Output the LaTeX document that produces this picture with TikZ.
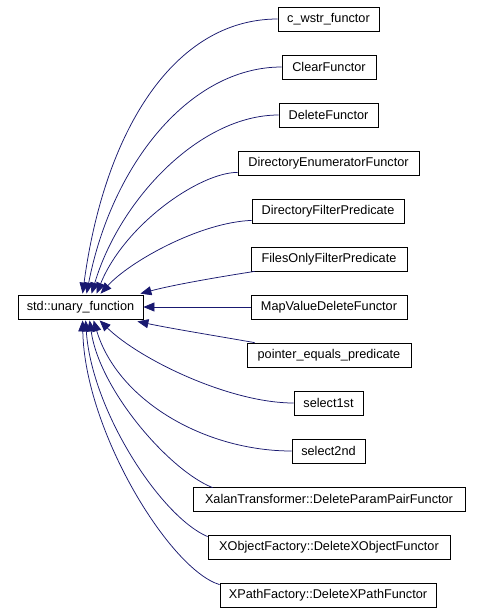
\documentclass[tikz,border=0pt]{standalone}
\usepackage{fontspec}
\setmainfont{Liberation Sans}
\usetikzlibrary{arrows.meta,calc}
\definecolor{edgeblue}{RGB}{25,25,112}
\begin{document}
\begin{tikzpicture}[x=1pt,y=-1pt,
  cls/.style={draw=black,line width=0.8pt,fill=white,inner sep=0pt,minimum height=24pt,
    font=\fontsize{12.7}{14}\selectfont,anchor=center},
  edge/.style={draw=edgeblue,line width=0.75pt,-{Triangle[length=11pt,width=9pt]}}]
\useasboundingbox (0,0) rectangle (483,614);
\fill[white] (0,0) rectangle (483,614);
\node[cls,minimum width=125pt] (u) at (80.5,307) {std::unary\_function};
\node[cls,minimum width=101pt] (c1) at (328.5,19) {c\_wstr\_functor};
\node[cls,minimum width=94pt] (c2) at (329,67) {ClearFunctor};
\node[cls,minimum width=99pt] (c3) at (328.5,115) {DeleteFunctor};
\node[cls,minimum width=181pt] (c4) at (328.5,163) {DirectoryEnumeratorFunctor};
\node[cls,minimum width=152pt] (c5) at (328,211) {DirectoryFilterPredicate};
\node[cls,minimum width=156pt] (c6) at (329,259) {FilesOnlyFilterPredicate};
\node[cls,minimum width=156pt] (c7) at (329,307) {MapValueDeleteFunctor};
\node[cls,minimum width=164pt] (c8) at (329,355) {pointer\_equals\_predicate};
\node[cls,minimum width=69pt] (c9) at (328.5,403) {select1st};
\node[cls,minimum width=73pt] (c10) at (328.5,451) {select2nd};
\node[cls,minimum width=272pt] (c11) at (329,499) {XalanTransformer::DeleteParamPairFunctor};
\node[cls,minimum width=242pt] (c12) at (329,547) {XObjectFactory::DeleteXObjectFunctor};
\node[cls,minimum width=216pt] (c13) at (328,595) {XPathFactory::DeleteXPathFunctor};

\draw[edge] (c1.west) .. controls +(-103,0) and +(22,-164) .. ($(u.north west)+(65,-1)$);
\draw[edge] (c2.west) .. controls +(-92,0) and +(25,-129) .. ($(u.north west)+(69,-1)$);
\draw[edge] (c3.west) .. controls +(-79,0) and +(28,-94) .. ($(u.north west)+(74,-1)$);
\draw[edge] ($(c4.south west)+(0,-3)$) .. controls +(-38,0) and +(28,-69) .. ($(u.north west)+(79,-1)$);
\draw[edge] ($(c5.south west)+(0,-3)$) .. controls +(-52,2) and +(29,-32) .. ($(u.north west)+(83,-1)$);
\draw[edge] ($(c6.south west)+(4,0)$) .. controls +(-45,7) and +(30,-8) .. ($(u.north east)+(-3,-1)$);
\draw[edge] (c7.west) -- (u.east);
\draw[edge] ($(c8.north west)+(8,0)$) .. controls +(-40,-7) and +(33,7) .. ($(u.south east)+(-6,2)$);
\draw[edge] (c9.west) .. controls +(-64,0) and +(40,39) .. ($(u.south west)+(82,1)$);
\draw[edge] (c10.west) .. controls +(-87,0) and +(24,80) .. ($(u.south west)+(76,1)$);
\draw[edge] ($(c11.north west)+(20,1)$) .. controls +(-43,-17) and +(10,70) .. ($(u.south west)+(72,1)$);
\draw[edge] ($(c12.north west)+(0,2)$) .. controls +(-47,-20) and +(6,90) .. ($(u.south west)+(68,1)$);
\draw[edge] ($(c13.north west)+(0,2)$) .. controls +(-50,-15) and +(2,110) .. ($(u.south west)+(65,1)$);
\end{tikzpicture}
\end{document}
